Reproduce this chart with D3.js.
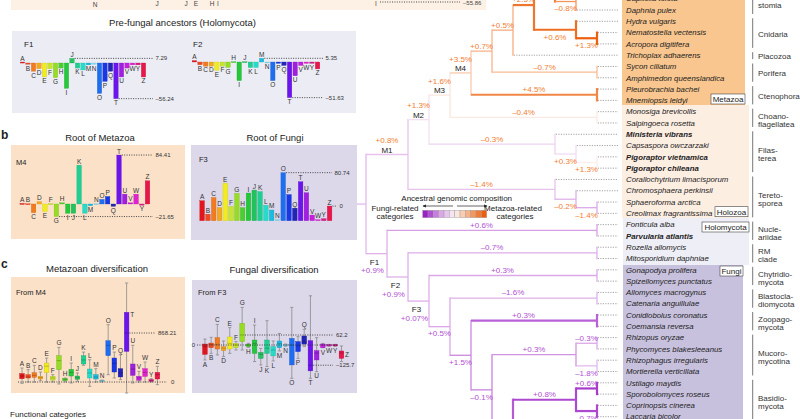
<!DOCTYPE html>
<html>
<head>
<meta charset="utf-8">
<script src="https://cdn.jsdelivr.net/npm/d3@7"></script>
<style>
body{margin:0;background:#fff;}
svg{font-family:"Liberation Sans",Arial,sans-serif;}
</style>
</head>
<body>
<svg id="fig" width="800" height="419"></svg>
<script>
// functional categories (COG letters) and their colours
const cats = ["A","B","C","D","E","F","G","H","I","J","K","L","M","N","O","P","Q","T","U","V","W","Y","Z"];
const catColors = ["#e3141c","#ee4a22","#f27a1f","#f6a81c","#f2ec1c","#c7e52a","#95dc22","#49d02e","#25c83a","#22c25e","#1fcf92","#26dcc9","#1cbbe0","#8ad8ee","#1f6ef0","#1838e6","#2224b8","#6c14ec","#a01fe0","#c51fe0","#e023cf","#d81c86","#e8174a"];

// a: pre-fungal ancestors
const f1Values = [1.5,-2,-13,-9,-22,-9,-23,-8,-40,7.29,-8,-11,-3,-2,-48,-29,-13,-56.24,-22,-8,-3,-3,-22];
const f2Values = [2,-4,-6,-6,-12,-6,-8,0.5,-27,0.5,-8,-8,5.35,-1,-27,-2,-5,-51.63,-20,-5,-2,-2,-10];
// b: roots
const m4Values = [1,0.5,-15,4,-13,0.5,-21.65,2,-16,-16,67,-16,-3,0.5,8,13,-4,84.41,17,2,17,-2,40];
const f3Values = [33.6,11,39,22,63,24,46,22,46.5,51.5,49,26,18,2,80.74,44,21,65.5,47,9.5,1.7,3.4,24.6];
// c: diversification, [min, q1, median, q3, max]
const m4Boxes = [[-24,59,106,148,248],[0,71,89,130,218],[0,83,118,165,295],[24,53,77,100,177],[0,165,280,336,425],[0,35,71,100,130],[-35,218,378,466,614],[0,24,47,59,71],[-18,106,170,224,336],[12,47,77,106,160],[295,319,390,466,530],[-77,71,160,230,395],[0,53,89,130,236],[0,6,24,30,35],[130,466,650,732,1015],[71,177,330,425,530],[41,89,160,236,484],[-195,543,868.21,1234,1754],[-18,118,230,319,650],[0,30,71,100,189],[0,100,170,236,354],[0,12,30,41,59],[-47,53,130,171,277]];
const f3Boxes = [[-93,-58,-10,6,37],[-52,-17,2,12,48],[-62,-25,4,46,128],[-72,-35,-20,-10,25],[-52,-25,10,50,108],[-31,-17,0,10,21],[-31,21,62.2,135,234],[-14,-10,0,4,10],[-103,-52,10,31,124],[-124,-83,-58,-46,-21],[-134,-52,-20,31,151],[-99,-68,-31,-10,25],[-37,-17,10,25,72],[-8,-4,0,2,6],[-207,-124,0,41,234],[-83,-41,-5,21,52],[-10,6,20,56,97],[-207,-161,-125.7,27,306],[-166,-93,-50,-35,46],[-17,-17,0,6,10],[-8,-6,0,2,4],[-8,-6,0,2,4],[-103,-83,-50,-37,-6]];

// tree clades: [id, parent, cladogram column, composition (-1 fungi .. +1 metazoa), change]
const clades = [
  ["root",null,0,-0.35,""],
  ["M1","root",2,-0.3,"+0.8%"],
  ["M2","M1",3,-0.12,"+1.3%"],
  ["M3","M2",4,0.1,"+1.6%"],
  ["M4","M3",5,0.3,"+3.5%"],
  ["n6","M4",6,0.45,"+0.7%"],
  ["n7","n6",7,0.5,"+0.5%"],
  ["n8","n7",8,0.85,"+2.5%"],
  ["bila","n8",9,0.8,""],
  ["deut","bila",10,0.7,""],
  ["deutA","deut",11,0.6,""],
  ["deutB","deut",11,0.6,""],
  ["prot","bila",10,0.65,"–0.8%"],
  ["spir","prot",11,0.6,""],
  ["cnid","n8",10,0.9,"+0.6%"],
  ["anth","cnid",11,1,"+1.3%"],
  ["pori","n6",11,0.4,"–0.7%"],
  ["cten","M4",11,0.75,"+4.5%"],
  ["choa","M3",11,0.08,"–0.4%"],
  ["fila","M2",9,-0.2,"–0.3%"],
  ["fila2","fila",10,-0.15,"+0.3%"],
  ["pigo","fila2",11,0.05,"+1.3%"],
  ["tere","M1",9,-0.3,"–1.4%"],
  ["ichth","tere",10,-0.4,"–0.2%"],
  ["ichth2","ichth",11,-0.45,"–1.4%"],
  ["F1","root",1,-0.4,"+0.9%"],
  ["nucl","F1",11,-0.5,"+0.6%"],
  ["F2","F1",2,-0.4,"+0.9%"],
  ["rm","F2",11,-0.42,"–0.7%"],
  ["F3","F2",3,-0.42,"+0.07%"],
  ["chyt","F3",11,-0.45,"+0.3%"],
  ["f4","F3",4,-0.45,"+0.5%"],
  ["blas","f4",11,-0.4,"–1.6%"],
  ["f5","f4",5,-0.6,"+1.5%"],
  ["zoop","f5",11,-0.75,"+0.3%"],
  ["f6","f5",6,-0.62,"–0.1%"],
  ["muco","f6",10,-0.55,"+0.3%"],
  ["muco1","muco",11,-0.45,"–0.3%"],
  ["muco2","muco",11,-0.35,"–1.8%"],
  ["dika","f6",7,-0.78,""],
  ["basi","dika",10,-0.85,"+0.8%"],
  ["basi1","basi",11,-0.9,"+0.6%"],
  ["basi2","basi",11,-0.85,"–0.7%"],
  ["asco","dika",9,-0.75,""],
  ["asco1","asco",10,-0.75,""],
  ["asco2","asco",10,-0.75,""]
];
// taxa in display order: [name, parent clade]
const taxa = [
  ["Homo sapiens","deutA"],["Branchiostoma floridae","deutA"],
  ["Strongylocentrotus purpuratus","deutB"],["Saccoglossus kowalevskii","deutB"],
  ["Lottia gigantea","spir"],["Capitella teleta","spir"],["Daphnia pulex","prot"],
  ["Hydra vulgaris","cnid"],["Nematostella vectensis","anth"],["Acropora digitifera","anth"],
  ["Trichoplax adhaerens","n7"],
  ["Sycon ciliatum","pori"],["Amphimedon queenslandica","pori"],
  ["Pleurobrachia bachei","cten"],["Mnemiopsis leidyi","cten"],
  ["Monosiga brevicollis","choa"],["Salpingoeca rosetta","choa"],
  ["Ministeria vibrans","fila"],["Capsaspora owczarzaki","fila2"],
  ["Pigoraptor vietnamica","pigo"],["Pigoraptor chileana","pigo"],
  ["Corallochytrium limacisporum","tere"],["Chromosphaera perkinsii","ichth"],
  ["Sphaeroforma arctica","ichth2"],["Creolimax fragrantissima","ichth2"],
  ["Fonticula alba","nucl"],["Parvularia atlantis","nucl"],
  ["Rozella allomycis","rm"],["Mitosporidium daphniae","rm"],
  ["Gonapodya prolifera","chyt"],["Spizellomyces punctatus","chyt"],
  ["Allomyces macrogynus","blas"],["Catenaria anguillulae","blas"],
  ["Conidiobolus coronatus","zoop"],["Coemansia reversa","zoop"],
  ["Rhizopus oryzae","muco1"],["Phycomyces blakesleeanus","muco1"],
  ["Rhizophagus irregularis","muco2"],["Mortierella verticillata","muco2"],
  ["Ustilago maydis","basi1"],["Sporobolomyces roseus","basi1"],
  ["Coprinopsis cinerea","basi2"],["Laccaria bicolor","basi2"],
  ["Saccharomyces cerevisiae","asco1"],["Candida albicans","asco1"],
  ["Neurospora crassa","asco2"],["Aspergillus nidulans","asco2"],["Tuber melanosporum","asco2"],["Schizosaccharomyces pombe","asco2"]
];
const boldTaxa = ["Ministeria vibrans","Pigoraptor vietnamica","Pigoraptor chileana","Parvularia atlantis"];

const groupNames = [["Proto-","stomia"],["Cnidaria"],["Placozoa"],["Porifera"],["Ctenophora"],["Choano-","flagellatea"],["Filas-","terea"],["Tereto-","sporea"],["Nucle-","ariidae"],["RM","clade"],["Chytridio-","mycota"],["Blastocla-","diomycota"],["Zoopago-","mycota"],["Mucoro-","mycotina"],["Basidio-","mycota"]];
const groupFirst = ["Lottia gigantea","Hydra vulgaris","Trichoplax adhaerens","Sycon ciliatum","Pleurobrachia bachei","Monosiga brevicollis","Ministeria vibrans","Corallochytrium limacisporum","Fonticula alba","Rozella allomycis","Gonapodya prolifera","Allomyces macrogynus","Conidiobolus coronatus","Rhizopus oryzae","Ustilago maydis"];
const groupLast = ["Daphnia pulex","Acropora digitifera","Trichoplax adhaerens","Amphimedon queenslandica","Mnemiopsis leidyi","Salpingoeca rosetta","Pigoraptor chileana","Creolimax fragrantissima","Parvularia atlantis","Mitosporidium daphniae","Spizellomyces punctatus","Catenaria anguillulae","Coemansia reversa","Mortierella verticillata","Laccaria bicolor"];

const legendSteps = [-1,-0.82,-0.64,-0.46,-0.28,-0.1,0.1,0.28,0.46,0.64,0.82,1];

const svg = d3.select("#fig");
const compColor = d3.scaleLinear().domain([-1,-0.5,0,0.5,1])
  .range(["#9b22c6","#d7a0e6","#fcf6f6","#f7ad7e","#ec5f0d"]);

function box(x,y,w,h,fill){
  return svg.append("rect").attr("x",x).attr("y",y).attr("width",w).attr("height",h).attr("fill",fill);
}
function txt(x,y,s,size,opt){
  opt = opt || {};
  const t = svg.append("text").attr("x",x).attr("y",y).text(s)
    .attr("font-size",size).attr("fill",opt.fill||"#222")
    .attr("text-anchor",opt.anchor||"start");
  if(opt.weight) t.attr("font-weight",opt.weight);
  if(opt.style) t.attr("font-style",opt.style);
  if(opt.mid) t.attr("dy","0.35em");
  return t;
}
function dotted(x1,x2,y){
  svg.append("line").attr("x1",x1).attr("x2",x2).attr("y1",y).attr("y2",y)
    .attr("stroke","#333").attr("stroke-width",0.9).attr("stroke-dasharray","1,1.4");
}

// ---------- left side backgrounds ----------
box(11,-10,475,20,"#fdf1e6");
const stripLetters = [["N",95,7],["J",157,5.5],["J",186,5.5],["E",196,6],["H",212,5.5],["I",218,5.5],["I",376,6]];
stripLetters.forEach(d=>{ txt(d[1],d[2],d[0],6.5,{anchor:"middle",fill:"#444"}); });
dotted(380,460,2);
txt(463,4.5,"–55.86",6,{fill:"#444"});

txt(182.5,26,"Pre-fungal ancestors (Holomycota)",9.5,{anchor:"middle"});
box(12,31,344,82,"#ecedf4");
txt(24,47,"F1",8); txt(193,47,"F2",8);

txt(1,139,"b",12,{weight:"bold"});
txt(100,141,"Root of Metazoa",9.5,{anchor:"middle"});
txt(275,141,"Root of Fungi",9.5,{anchor:"middle"});
box(11,145,174,94,"#fbe1c8");
box(191,145,166,95,"#dcd8ea");
txt(16,165,"M4",7.5); txt(199,162,"F3",7.5);

txt(1,268,"c",12,{weight:"bold"});
txt(97,272,"Metazoan diversification",9.5,{anchor:"middle"});
txt(274,273,"Fungal diversification",9.5,{anchor:"middle"});
box(11,277,174,116,"#fbe1c8");
box(192,280,165,113,"#dcd8ea");
txt(16,295,"From M4",7.5); txt(198,295,"From F3",7.5);
txt(10,417,"Functional categories",8);

// ---------- bar panels ----------
function barPanel(vals, x0, x1, yBase, pxPerUnit, marks){
  const xs = d3.scaleBand().domain(cats).range([x0,x1]).paddingInner(0.2);
  const ys = d3.scaleLinear().domain([0,1]).range([yBase, yBase-pxPerUnit]);
  const g = svg.append("g");
  g.selectAll("rect").data(cats).join("rect")
    .attr("x",c=>xs(c)).attr("width",xs.bandwidth())
    .attr("y",(c,i)=>Math.min(ys(vals[i]),ys(0)))
    .attr("height",(c,i)=>Math.max(Math.abs(ys(vals[i])-ys(0)),1))
    .attr("fill",(c,i)=>catColors[i])
    .attr("stroke",(c,i)=>d3.color(catColors[i]).darker(0.5)).attr("stroke-width",0.3);
  g.selectAll("text").data(cats).join("text")
    .attr("x",c=>xs(c)+xs.bandwidth()/2)
    .attr("y",(c,i)=>vals[i]>=0 ? Math.min(ys(vals[i]),ys(0)-1)-1.5 : ys(vals[i])+6.3)
    .attr("text-anchor","middle").attr("font-size",6.5).attr("fill","#333").text(c=>c);
  marks.forEach(m=>{
    const i = cats.indexOf(m.cat);
    const yv = ys(vals[i]);
    dotted(xs(m.cat)+xs.bandwidth()+0.5, m.xEnd, yv);
    txt(m.xEnd+2.5, yv+2, m.label, 6, {fill:"#333"});
  });
}
barPanel(f1Values, 20.3, 145.7, 63, 0.634, [{cat:"J",label:"7.29",xEnd:153},{cat:"T",label:"–56.24",xEnd:153}]);
barPanel(f2Values, 192.2, 319.8, 62, 0.69, [{cat:"M",label:"5.35",xEnd:323},{cat:"T",label:"–51.63",xEnd:323}]);
barPanel(m4Values, 19.9, 149.8, 204, 0.58, [{cat:"T",label:"84.41",xEnd:153},{cat:"G",label:"–21.65",xEnd:153}]);
barPanel(f3Values, 199.8, 331.9, 220.7, 0.595, [{cat:"O",label:"80.74",xEnd:332},{cat:"Z",label:"0",xEnd:337}]);

// ---------- box plot panels ----------
function boxPanel(stats, x0, x1, yZero, refVal, yRef, labelAbove, labelRight){
  const xs = d3.scaleBand().domain(cats).range([x0,x1]).paddingInner(0.25);
  const ys = d3.scaleLinear().domain([0,refVal]).range([yZero,yRef]);
  const g = svg.append("g");
  const bw = xs.bandwidth();
  cats.forEach((c,i)=>{
    const s = stats[i];
    const mn = s[0], q1 = s[1], md = s[2], q3 = s[3], mx = s[4];
    const cx = xs(c)+bw/2;
    g.append("line").attr("x1",cx).attr("x2",cx).attr("y1",ys(mn)).attr("y2",ys(mx))
      .attr("stroke","#8a8a8a").attr("stroke-width",0.8);
    [mn,mx].forEach(v=>{
      g.append("line").attr("x1",cx-1.6).attr("x2",cx+1.6).attr("y1",ys(v)).attr("y2",ys(v))
        .attr("stroke","#8a8a8a").attr("stroke-width",0.8);
    });
    g.append("rect").attr("x",xs(c)).attr("width",bw)
      .attr("y",ys(q3)).attr("height",Math.max(ys(q1)-ys(q3),1.2))
      .attr("fill",catColors[i]).attr("stroke",d3.color(catColors[i]).darker(0.6)).attr("stroke-width",0.4);
    g.append("line").attr("x1",xs(c)).attr("x2",xs(c)+bw).attr("y1",ys(md)).attr("y2",ys(md))
      .attr("stroke",d3.color(catColors[i]).darker(1.2)).attr("stroke-width",0.6);
    let lx = cx, ly, anchor = "middle";
    if(labelRight.indexOf(c) >= 0){
      lx = xs(c)+bw+1.2;
      ly = (c==="T") ? ys(q3)+5 : (ys(q1)+ys(q3))/2+2.3;
      anchor = "start";
    } else if(labelAbove.indexOf(c) >= 0){
      ly = ys(mx)-2;
    } else {
      ly = ys(mn)+6.8;
    }
    g.append("text").attr("x",lx).attr("y",ly).attr("text-anchor",anchor)
      .attr("font-size",6.5).attr("fill","#333").text(c);
  });
  return {xs:xs, ys:ys};
}
const bm = boxPanel(m4Boxes, 19.7, 159.7, 382, 868.21, 333, cats.filter(c=>c!=="T").join(""), "T");
dotted(18,167,382); txt(171,384,"0",6,{fill:"#333"});
dotted(bm.xs("T")+bm.xs.bandwidth()+0.5,155,bm.ys(868.21)); txt(158,bm.ys(868.21)+2,"868.21",6,{fill:"#333"});

const bf = boxPanel(f3Boxes, 202.6, 343.8, 345, 62.2, 335, "CEFGIQ", "Z");
dotted(197,337,345); txt(195,347,"0",6,{anchor:"end",fill:"#333"});
dotted(bf.xs("G")+bf.xs.bandwidth()+0.5,333,bf.ys(62.2)); txt(336,bf.ys(62.2)+2,"62.2",6,{fill:"#333"});
dotted(bf.xs("T")+bf.xs.bandwidth()+0.5,333,bf.ys(-125.7)); txt(336,bf.ys(-125.7)+2,"–125.7",6,{fill:"#333"});

// ---------- tree ----------
box(622,-20,123,125,"#f8c68e");
box(622,105,127,113,"#fdeee2");
box(623,218,126,47,"#eeeef6");
box(623,265,120,160,"#c8c1de");

const table = clades.map(r=>({id:r[0], parent:r[1], col:r[2], comp:r[3], pct:r[4]}))
  .concat(taxa.map((t,i)=>({id:t[0], parent:t[1], leaf:true, order:i})));
const root = d3.stratify().id(d=>d.id).parentId(d=>d.parent)(table);
root.eachAfter(n=>{ n.ord = n.children ? d3.min(n.children, c=>c.ord) : n.data.order; });
root.sort((a,b)=>a.ord-b.ord);

const leaves = root.leaves();
const yRow = d3.scaleLinear().domain([0,36]).range([10,416.7]);
const xCol = d3.scaleLinear().domain([0,12]).range([366,618]);
leaves.forEach((n,i)=>{ n.y = yRow(i-6); n.x = xCol(12); });
root.eachAfter(n=>{
  if(n.children){
    n.y = (n.children[0].y + n.children[n.children.length-1].y)/2;
    n.x = xCol(n.data.col);
  }
});
root.eachBefore(n=>{ n.holo = n.parent ? (n.parent.holo || n.data.id==="F1") : false; });
const leafY = {};
leaves.forEach(n=>{ leafY[n.data.id] = n.y; });

const strokeW = c => Math.abs(c) > 0.7 ? 2.2 : 1.3;
const gT = svg.append("g");
leaves.forEach(n=>{
  gT.append("line").attr("x1",n.parent.x+0.8).attr("x2",618).attr("y1",n.y).attr("y2",n.y)
    .attr("stroke","#8c8c8c").attr("stroke-width",0.8).attr("stroke-dasharray","1.2,1.3");
});
root.descendants().filter(n=>n.children).forEach(n=>{
  const col = compColor(n.data.comp), w = strokeW(n.data.comp);
  gT.append("line").attr("x1",n.x).attr("x2",n.x)
    .attr("y1",n.children[0].y).attr("y2",n.children[n.children.length-1].y)
    .attr("stroke",col).attr("stroke-width",w).attr("stroke-linecap","square");
  const x0 = n.parent ? n.parent.x : 357;
  gT.append("line").attr("x1",x0).attr("x2",n.x).attr("y1",n.y).attr("y2",n.y)
    .attr("stroke",col).attr("stroke-width",w);
});
// branch labels
root.descendants().filter(n=>n.children && n.parent && n.data.pct).forEach(n=>{
  const isTop = n.parent.children[0] === n;
  const long = (n.data.col - n.parent.data.col) >= 3;
  const above = isTop || long;
  const xEnd = (n.holo && long) ? Math.min(n.x, xCol(10)) : n.x;
  const cx = (n.parent.x + xEnd)/2;
  const fill = n.holo ? "#b24fd3" : "#f27d2e";
  const named = /^[MF]\d$/.test(n.data.id);
  if(named){
    if(above){
      txt(cx, n.y-4.5, n.data.id, 8, {anchor:"middle", mid:true});
      txt(cx, n.y-14, n.data.pct, 8, {anchor:"middle", mid:true, fill:fill});
    } else {
      txt(cx-2, n.y+8.5, n.data.id, 8, {anchor:"middle", mid:true});
      txt(cx-4, n.y+17, n.data.pct, 8, {anchor:"middle", mid:true, fill:fill});
    }
  } else {
    txt(cx, above ? n.y-5.4 : n.y+7, n.data.pct, 8, {anchor:"middle", mid:true, fill:fill});
  }
});
// taxon names (only rows that reach the visible area)
leaves.filter(n=>n.y > -6 && n.y < 425).forEach(n=>{
  txt(626, n.y, n.data.id, 7.8, {style:"italic", mid:true, weight: boldTaxa.indexOf(n.data.id)>=0 ? "bold" : null, fill:"#222"});
});
// clade boxes
[["Metazoa",711,94,34],["Holozoa",715,206.7,33],["Holomycota",702,222,47],["Fungi",720,266,23]].forEach(d=>{
  svg.append("rect").attr("x",d[1]).attr("y",d[2]).attr("width",d[3]).attr("height",10)
    .attr("fill","#fff").attr("stroke","#444").attr("stroke-width",0.6);
  txt(d[1]+d[3]/2, d[2]+5, d[0], 8, {anchor:"middle", mid:true});
});
// group labels
groupNames.forEach((names,i)=>{
  const y1 = leafY[groupFirst[i]], y2 = leafY[groupLast[i]];
  svg.append("line").attr("x1",752.7).attr("x2",752.7).attr("y1",y1-3).attr("y2",y2+4)
    .attr("stroke","#777").attr("stroke-width",1);
  const mid = (y1+y2)/2;
  if(names.length===1){
    txt(758, mid+1.5, names[0], 8, {mid:true, fill:"#333"});
  } else {
    txt(758, mid-1.5, names[0], 8, {mid:true, fill:"#333"});
    txt(758, mid+6.5, names[1], 8, {mid:true, fill:"#333"});
  }
});

// legend
txt(456.7,198.3,"Ancestral genomic composition",8,{anchor:"middle",mid:true});
const defs = svg.append("defs");
defs.append("marker").attr("id","ah").attr("viewBox","0 0 6 6").attr("refX",5).attr("refY",3)
  .attr("markerWidth",5).attr("markerHeight",5).attr("orient","auto")
  .append("path").attr("d","M0,0.5L6,3L0,5.5Z").attr("fill","#222");
svg.append("line").attr("x1",453).attr("x2",423).attr("y1",206).attr("y2",206).attr("stroke","#222").attr("stroke-width",0.7).attr("marker-end","url(#ah)");
svg.append("line").attr("x1",457).attr("x2",487).attr("y1",206).attr("y2",206).attr("stroke","#222").attr("stroke-width",0.7).attr("marker-end","url(#ah)");
txt(395,208.3,"Fungi-related",8,{anchor:"middle",mid:true});
txt(395,216,"categories",8,{anchor:"middle",mid:true});
txt(513,208.3,"Metazoa-related",8,{anchor:"middle",mid:true});
txt(515,216,"categories",8,{anchor:"middle",mid:true});
const lx = d3.scaleBand().domain(d3.range(legendSteps.length)).range([422.7,486.7]);
svg.append("g").selectAll("rect").data(legendSteps).join("rect")
  .attr("x",(d,i)=>lx(i)).attr("y",210.3).attr("width",lx.bandwidth()).attr("height",7.4)
  .attr("fill",d=>compColor(d)).attr("stroke","#999").attr("stroke-width",0.4);
</script>
</body>
</html>
